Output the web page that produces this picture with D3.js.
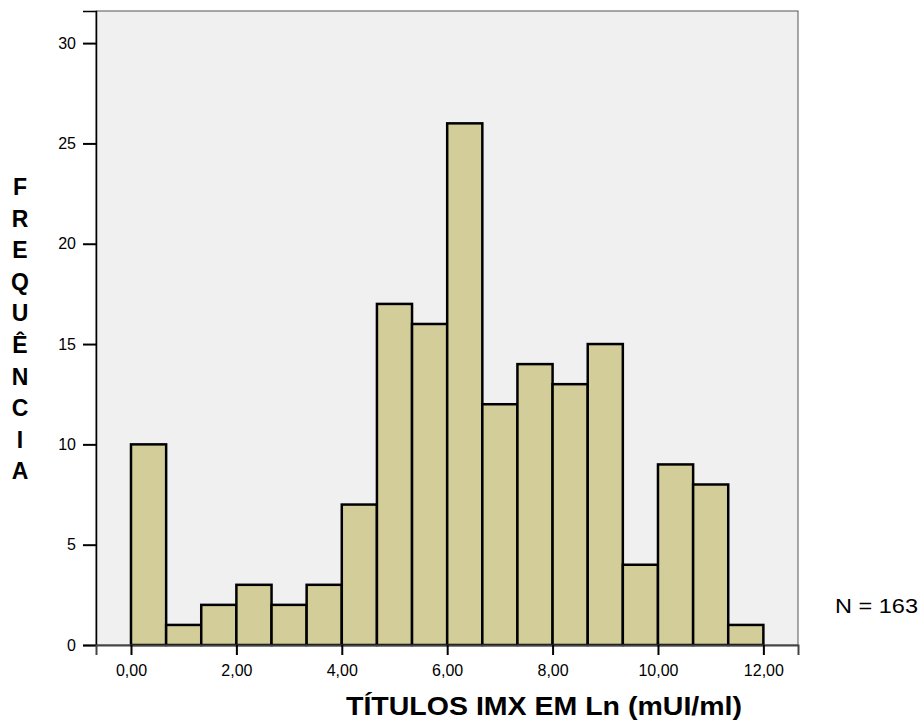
<!DOCTYPE html>
<html>
<head>
<meta charset="utf-8">
<script src="https://cdn.jsdelivr.net/npm/d3@7"></script>
<style>
  body { margin: 0; background: #ffffff; }
  svg { display: block; font-family: Arial, "Liberation Sans", sans-serif; }
</style>
</head>
<body>
<div id="chart"></div>
<script>
// histogram data
var binEdges = [0, 0.667, 1.333, 2, 2.667, 3.333, 4, 4.667, 5.333, 6, 6.667, 7.333, 8, 8.667, 9.333, 10, 10.667, 11.333, 12];
var counts = [10, 1, 2, 3, 2, 3, 7, 17, 16, 26, 12, 14, 13, 15, 4, 9, 8, 1];
var xTicks = [0, 2, 4, 6, 8, 10, 12];
var yTicks = [0, 5, 10, 15, 20, 25, 30];
var yTitle = "FREQUÊNCIA";
var xTitle = "TÍTULOS IMX EM Ln (mUI/ml)";
var nLabel = "N = 163";

var W = 924, H = 721;
var plot = {left: 96, right: 798, top: 11, bottom: 645};

var svg = d3.select("#chart").append("svg")
    .attr("width", W)
    .attr("height", H);

var x = d3.scaleLinear()
    .domain([-0.664, 12.657])
    .range([plot.left, plot.right]);

var y = d3.scaleLinear()
    .domain([0, 31.6])
    .range([plot.bottom, plot.top]);

// plot background
svg.append("rect")
    .attr("x", plot.left)
    .attr("y", plot.top)
    .attr("width", plot.right - plot.left)
    .attr("height", plot.bottom - plot.top)
    .attr("fill", "#f0f0f0")
    .attr("stroke", "#555")
    .attr("stroke-width", 1);

// bars
var bins = counts.map(function(c, i) {
    return {x0: binEdges[i], x1: binEdges[i + 1], n: c};
});

svg.selectAll(".bar")
    .data(bins)
    .enter()
    .append("rect")
    .attr("class", "bar")
    .attr("x", function(d) { return x(d.x0); })
    .attr("y", function(d) { return y(d.n); })
    .attr("width", function(d) { return x(d.x1) - x(d.x0); })
    .attr("height", function(d) { return y(0) - y(d.n); })
    .attr("fill", "#d3ce99")
    .attr("stroke", "#000")
    .attr("stroke-width", 2.5);

// y axis
var yAxis = svg.append("g")
    .attr("transform", "translate(" + plot.left + ",0)")
    .call(d3.axisLeft(y).tickValues(yTicks).tickSize(13).tickPadding(7).tickFormat(d3.format("d")));
yAxis.select(".domain").attr("stroke", "#000").attr("stroke-width", 1.5);
yAxis.selectAll(".tick line").attr("stroke", "#000").attr("stroke-width", 2);
yAxis.selectAll(".tick text").attr("font-size", 16).attr("fill", "#000")
    .attr("font-family", "Arial, 'Liberation Sans', sans-serif");

// x axis
var xAxis = svg.append("g")
    .attr("transform", "translate(0," + plot.bottom + ")")
    .call(d3.axisBottom(x).tickValues(xTicks).tickSize(10).tickPadding(10)
        .tickFormat(function(d) { return d3.format(".2f")(d).replace(".", ","); }));
xAxis.select(".domain").attr("stroke", "#444").attr("stroke-width", 2);
xAxis.selectAll(".tick line").attr("stroke", "#000").attr("stroke-width", 2);
xAxis.selectAll(".tick text").attr("font-size", 16).attr("fill", "#000")
    .attr("font-family", "Arial, 'Liberation Sans', sans-serif");

// y title, one letter per line
svg.append("g").selectAll("text")
    .data(yTitle.split(""))
    .enter()
    .append("text")
    .attr("x", 20)
    .attr("y", function(d, i) { return 195 + i * 31.6; })
    .attr("text-anchor", "middle")
    .attr("font-size", 23)
    .attr("font-weight", "bold")
    .text(function(d) { return d; });

// x title
svg.append("text")
    .attr("x", 346)
    .attr("y", 715)
    .attr("font-size", 26)
    .attr("font-weight", "bold")
    .attr("textLength", 396)
    .attr("lengthAdjust", "spacingAndGlyphs")
    .text(xTitle);

// N label
svg.append("text")
    .attr("x", 835)
    .attr("y", 613)
    .attr("font-size", 20)
    .attr("textLength", 83)
    .attr("lengthAdjust", "spacingAndGlyphs")
    .text(nLabel);
</script>
</body>
</html>
